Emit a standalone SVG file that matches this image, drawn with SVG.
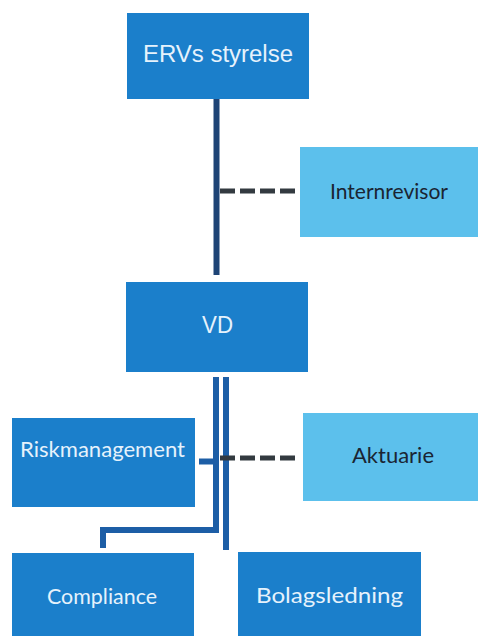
<svg xmlns="http://www.w3.org/2000/svg" width="478" height="636" viewBox="0 0 478 636">
<style>
.dark{fill:#1b7fcb}
.light{fill:#5cc0ec}
.tw{fill:#e6f2fc;font-family:"Liberation Sans",Arial,sans-serif;font-size:23px;text-anchor:middle}
.tc{fill:#e6f2fc;font-family:Lato,"Liberation Sans",sans-serif;font-size:21px;text-anchor:middle}
.td{fill:#1a2533;font-family:Lato,"Liberation Sans",sans-serif;font-size:21px;text-anchor:middle}
.solid{stroke:#1d5ea6;stroke-width:6;fill:none}
.navy{stroke:#1e4476;stroke-width:6;fill:none}
.dash{stroke:#333a40;stroke-width:5;stroke-dasharray:15 5;fill:none}
</style>
<g id="connectors">
<line class="navy" x1="216.5" y1="99" x2="216.5" y2="275"/>
<line class="dash" x1="220" y1="191" x2="295" y2="191"/>
<polyline class="solid" points="216,377 216,530 103,530 103,548"/>
<line class="solid" x1="226" y1="377" x2="226" y2="550"/>
<line class="solid" x1="199" y1="461.5" x2="214" y2="461.5"/>
<line class="dash" x1="220" y1="458" x2="298" y2="458"/>
</g>
<g id="erv">
<rect class="dark" x="127" y="13" width="182" height="86"/>
<text class="tw" x="218" y="62" textLength="150" lengthAdjust="spacingAndGlyphs">ERVs styrelse</text>
</g>
<g id="internrevisor">
<rect class="light" x="300" y="147" width="178" height="90"/>
<text class="td" x="389" y="199" textLength="118" lengthAdjust="spacingAndGlyphs">Internrevisor</text>
</g>
<g id="vd">
<rect class="dark" x="126" y="282" width="182" height="90"/>
<text class="tw" x="217.5" y="333" textLength="31" lengthAdjust="spacingAndGlyphs">VD</text>
</g>
<g id="riskmanagement">
<rect class="dark" x="12" y="418" width="183" height="89"/>
<text class="tc" x="102.5" y="457" textLength="165" lengthAdjust="spacingAndGlyphs">Riskmanagement</text>
</g>
<g id="aktuarie">
<rect class="light" x="303" y="413" width="175" height="88"/>
<text class="td" x="393" y="463" textLength="82" lengthAdjust="spacingAndGlyphs">Aktuarie</text>
</g>
<g id="compliance">
<rect class="dark" x="12" y="553" width="182" height="83"/>
<text class="tc" x="102" y="604" textLength="110" lengthAdjust="spacingAndGlyphs">Compliance</text>
</g>
<g id="bolagsledning">
<rect class="dark" x="238" y="552" width="183" height="84"/>
<text class="tc" x="329.5" y="603" textLength="147" lengthAdjust="spacingAndGlyphs">Bolagsledning</text>
</g>
</svg>
